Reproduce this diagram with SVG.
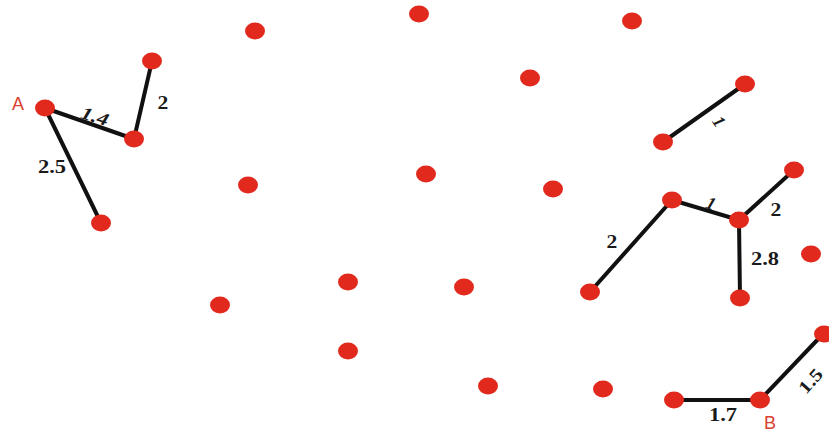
<svg xmlns="http://www.w3.org/2000/svg" width="829" height="430" viewBox="0 0 829 430">
<style>
.n{fill:#e1291e}
.e{stroke:#111;stroke-width:4;stroke-linecap:round}
.w{font-family:"Liberation Serif",serif;font-weight:bold;font-size:18px;fill:#1a1a1a}
.i{font-style:italic}
.p{font-family:"Liberation Sans",sans-serif;font-size:18px;fill:#d8402f}
</style>
<rect width="829" height="430" fill="#fff"/>
<g id="edges">
<line class="e" x1="45" y1="108" x2="134" y2="139"/>
<line class="e" x1="134" y1="139" x2="152" y2="61"/>
<line class="e" x1="45" y1="108" x2="101" y2="223"/>
<line class="e" x1="663" y1="142" x2="745" y2="84"/>
<line class="e" x1="672" y1="200" x2="739" y2="220"/>
<line class="e" x1="739" y1="220" x2="794" y2="170"/>
<line class="e" x1="739" y1="220" x2="740" y2="298"/>
<line class="e" x1="672" y1="200" x2="590" y2="292"/>
<line class="e" x1="674" y1="400" x2="760" y2="400"/>
<line class="e" x1="760" y1="400" x2="823" y2="334"/>
</g>
<g id="labels">
<text class="w i" transform="translate(93,122) rotate(18) scale(1.25,1)" text-anchor="middle">1.4</text>
<text class="w" transform="translate(163,109) scale(1.2,1)" text-anchor="middle">2</text>
<text class="w" transform="translate(52,173) scale(1.25,1)" text-anchor="middle">2.5</text>
<text class="w i" transform="translate(714,125) rotate(55)" text-anchor="middle">1</text>
<text class="w i" transform="translate(709,209) rotate(20)" text-anchor="middle">1</text>
<text class="w" transform="translate(776,216) scale(1.2,1)" text-anchor="middle">2</text>
<text class="w" transform="translate(612,248) scale(1.2,1)" text-anchor="middle">2</text>
<text class="w" transform="translate(765,265) scale(1.25,1)" text-anchor="middle">2.8</text>
<text class="w" transform="translate(723,421) scale(1.25,1)" text-anchor="middle">1.7</text>
<text class="w" transform="translate(815,385) rotate(-48) scale(1.2,1)" text-anchor="middle">1.5</text>
<text class="p" x="18" y="110" text-anchor="middle">A</text>
<text class="p" x="770" y="429" text-anchor="middle">B</text>
</g>
<g id="nA"><ellipse class="n" cx="45" cy="108" rx="10" ry="8.5"/></g>
<g id="n1"><ellipse class="n" cx="152" cy="61" rx="10" ry="8.5"/></g>
<g id="n2"><ellipse class="n" cx="134" cy="139" rx="10" ry="8.5"/></g>
<g id="n3"><ellipse class="n" cx="101" cy="223" rx="10" ry="8.5"/></g>
<g id="n4"><ellipse class="n" cx="255" cy="31" rx="10" ry="8.5"/></g>
<g id="n5"><ellipse class="n" cx="419" cy="14" rx="10" ry="8.5"/></g>
<g id="n6"><ellipse class="n" cx="632" cy="21" rx="10" ry="8.5"/></g>
<g id="n7"><ellipse class="n" cx="530" cy="78" rx="10" ry="8.5"/></g>
<g id="n8"><ellipse class="n" cx="745" cy="84" rx="10" ry="8.5"/></g>
<g id="n9"><ellipse class="n" cx="663" cy="142" rx="10" ry="8.5"/></g>
<g id="n10"><ellipse class="n" cx="248" cy="185" rx="10" ry="8.5"/></g>
<g id="n11"><ellipse class="n" cx="426" cy="174" rx="10" ry="8.5"/></g>
<g id="n12"><ellipse class="n" cx="553" cy="189" rx="10" ry="8.5"/></g>
<g id="n13"><ellipse class="n" cx="794" cy="170" rx="10" ry="8.5"/></g>
<g id="n14"><ellipse class="n" cx="672" cy="200" rx="10" ry="8.5"/></g>
<g id="n15"><ellipse class="n" cx="739" cy="220" rx="10" ry="8.5"/></g>
<g id="n16"><ellipse class="n" cx="811" cy="254" rx="10" ry="8.5"/></g>
<g id="n17"><ellipse class="n" cx="740" cy="298" rx="10" ry="8.5"/></g>
<g id="n18"><ellipse class="n" cx="590" cy="292" rx="10" ry="8.5"/></g>
<g id="n19"><ellipse class="n" cx="348" cy="282" rx="10" ry="8.5"/></g>
<g id="n20"><ellipse class="n" cx="464" cy="287" rx="10" ry="8.5"/></g>
<g id="n21"><ellipse class="n" cx="220" cy="305" rx="10" ry="8.5"/></g>
<g id="n22"><ellipse class="n" cx="348" cy="351" rx="10" ry="8.5"/></g>
<g id="n23"><ellipse class="n" cx="488" cy="386" rx="10" ry="8.5"/></g>
<g id="n24"><ellipse class="n" cx="603" cy="389" rx="10" ry="8.5"/></g>
<g id="n25"><ellipse class="n" cx="674" cy="400" rx="10" ry="8.5"/></g>
<g id="nB"><ellipse class="n" cx="760" cy="400" rx="10" ry="8.5"/></g>
<g id="n26"><ellipse class="n" cx="824" cy="334" rx="10" ry="8.5"/></g>
</svg>
